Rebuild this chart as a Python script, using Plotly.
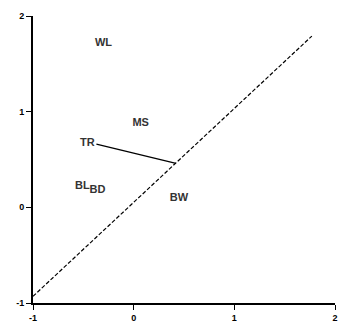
import plotly.graph_objects as go

# Group labels and their positions on the two discriminant scores
labels = ["WL", "MS", "TR", "BL", "BD", "BW"]
label_x = [-0.30, 0.07, -0.46, -0.51, -0.36, 0.45]
label_y = [1.72, 0.88, 0.67, 0.22, 0.18, 0.10]

# Reference diagonal (dashed)
diag_x = [-1.0, 1.77]
diag_y = [-0.93, 1.79]

# Segment from TR onto the diagonal
seg_x = [-0.37, 0.42]
seg_y = [0.66, 0.46]

tick_vals = [-1, 0, 1, 2]
tick_text = ["-1", "0", "1", "2"]

fig = go.Figure()
fig.add_trace(go.Scatter(x=diag_x, y=diag_y, mode="lines",
                         line=dict(color="black", width=1.2, dash="4px,2px"),
                         hoverinfo="skip"))
fig.add_trace(go.Scatter(x=seg_x, y=seg_y, mode="lines",
                         line=dict(color="black", width=1.3),
                         hoverinfo="skip"))
fig.add_trace(go.Scatter(x=label_x, y=label_y, mode="text", text=labels,
                         textfont=dict(family="Liberation Sans", size=11,
                                       color="#333", weight="bold"),
                         hoverinfo="skip"))

axis_common = dict(
    range=[-1, 2], tickvals=tick_vals, ticktext=tick_text,
    showgrid=False, zeroline=False, showline=True, linecolor="black",
    linewidth=2, ticks="outside", ticklen=5, tickwidth=1.2, tickcolor="black",
    ticklabeloverflow="allow",
    tickfont=dict(family="Liberation Sans", size=9, color="black", weight="bold"),
)
fig.update_xaxes(**axis_common)
fig.update_yaxes(**axis_common)

fig.update_layout(
    width=340, height=327, showlegend=False,
    margin=dict(l=33, r=2, t=16, b=24),
    plot_bgcolor="white", paper_bgcolor="white",
)
fig.write_html("out.html")
